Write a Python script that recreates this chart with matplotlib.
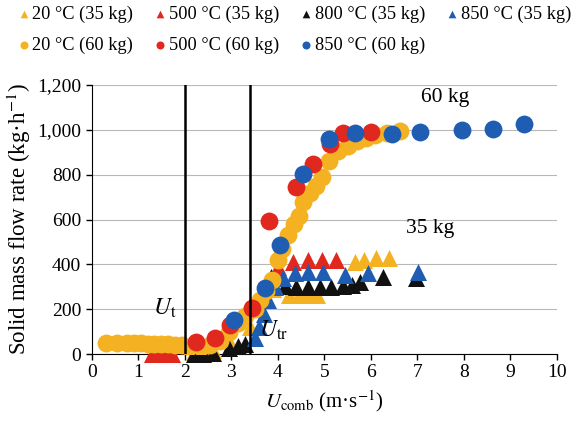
import matplotlib
matplotlib.use("Agg")
import matplotlib.pyplot as plt
from matplotlib.ticker import FuncFormatter

# ---------------- data ----------------
# 35 kg runs (triangles)
x_20_35 = [2.2, 2.6, 3.0, 3.4, 3.7, 3.9, 4.25, 4.45, 4.65, 4.85, 5.65, 5.85, 6.12, 6.4]
y_20_35 = [10, 20, 40, 120, 250, 290, 265, 262, 262, 265, 412, 420, 428, 428]

x_500_35 = [1.3, 1.45, 1.6, 1.72, 4.0, 4.33, 4.65, 4.95, 5.26]
y_500_35 = [0, 0, 0, 0, 390, 412, 420, 420, 420]

x_800_35 = [2.2, 2.4, 2.6, 2.95, 3.15, 3.3, 3.85, 4.15, 4.4, 4.65, 4.9, 5.15, 5.4, 5.6,
            5.76, 6.26, 6.98]
y_800_35 = [0, 0, 5, 25, 35, 45, 345, 305, 300, 300, 300, 300, 305, 310,
            322, 345, 338]

x_850_35 = [3.5, 3.6, 3.7, 3.8, 3.95, 4.11, 4.37, 4.65, 4.97, 5.44, 5.94, 7.02]
y_850_35 = [70, 120, 180, 240, 300, 338, 360, 367, 367, 352, 360, 367]

# 60 kg runs (circles)
x_20_60 = [0.3, 0.55, 0.75, 0.9, 1.05, 1.2, 1.35, 1.5, 1.65, 1.8, 1.95,
           2.1, 2.35, 2.55, 2.75, 2.95, 3.15, 3.3, 3.5, 3.62, 3.75, 3.88,
           4.0, 4.1, 4.22, 4.35, 4.46, 4.55, 4.7, 4.82, 4.95, 5.1, 5.3,
           5.5, 5.7, 5.9, 6.1, 6.35, 6.62]
y_20_60 = [50, 50, 50, 48, 48, 47, 46, 45, 44, 42, 40,
           33, 30, 40, 60, 100, 140, 170, 200, 240, 280, 330,
           420, 470, 530, 580, 615, 680, 720, 750, 790, 860, 905,
           930, 950, 965, 975, 985, 995]

x_500_60 = [2.25, 2.65, 2.97, 3.45, 3.82, 4.39, 4.75, 5.12, 5.4, 6.0]
y_500_60 = [55, 72, 130, 205, 595, 746, 850, 935, 984, 990]

x_850_60 = [3.05, 3.72, 4.05, 4.55, 5.1, 5.66, 6.46, 7.05, 7.95, 8.63, 9.3]
y_850_60 = [150, 293, 485, 803, 958, 984, 980, 990, 1000, 1002, 1025]

u_t = 2.0
u_tr = 3.4

ORANGE = "#F4B223"
RED = "#E0281F"
BLACK = "#111111"
BLUE = "#1F5DB3"

plt.rcParams["font.family"] = ["Liberation Serif", "DejaVu Serif"]
plt.rcParams["mathtext.fontset"] = "stix"

fig = plt.figure(figsize=(5.73, 4.21), dpi=100)
ax = fig.add_axes([0.16, 0.159, 0.812, 0.639])

tri = dict(marker="^", s=150, linewidths=0, clip_on=False)
cir = dict(marker="o", s=165, linewidths=0)

h_20_35 = ax.scatter(x_20_35, y_20_35, color=ORANGE, zorder=3, **tri)
h_500_35 = ax.scatter(x_500_35, y_500_35, color=RED, zorder=3, **tri)
h_800_35 = ax.scatter(x_800_35, y_800_35, color=BLACK, zorder=3, **tri)
h_850_35 = ax.scatter(x_850_35, y_850_35, color=BLUE, zorder=3, **tri)
h_20_60 = ax.scatter(x_20_60, y_20_60, color=ORANGE, zorder=4, **cir)
h_500_60 = ax.scatter(x_500_60, y_500_60, color=RED, zorder=4, **cir)
h_850_60 = ax.scatter(x_850_60, y_850_60, color=BLUE, zorder=4, **cir)

ax.axvline(u_t, color="black", linewidth=1.8, zorder=5)
ax.axvline(u_tr, color="black", linewidth=1.8, zorder=5)

ax.set_xlim(0, 10)
ax.set_ylim(0, 1200)
ax.set_xticks(range(0, 11))
ax.set_yticks(range(0, 1201, 200))
ax.yaxis.set_major_formatter(FuncFormatter(lambda v, p: f"{int(v):,}"))
ax.grid(axis="y", color="#b8b8b8", linewidth=0.8)
ax.set_axisbelow(True)
for side in ("top", "right"):
    ax.spines[side].set_visible(False)
ax.tick_params(labelsize=14, length=4, width=1)

ax.set_xlabel(r"$U_{\mathrm{comb}}$ (m·s$^{\mathrm{-1}}$)", fontsize=15, labelpad=5)
ax.set_ylabel(r"Solid mass flow rate (kg·h$^{\mathrm{-1}}$)", fontsize=16.5, labelpad=3)

ax.text(1.57, 205, r"$U_{\mathrm{t}}$", fontsize=17, ha="center", va="center")
ax.text(3.9, 107, r"$U_{\mathrm{tr}}$", fontsize=17, ha="center", va="center", zorder=6)
ax.text(7.6, 1146, "60 kg", fontsize=15.5, ha="center", va="center")
ax.text(7.27, 562, "35 kg", fontsize=15.5, ha="center", va="center")

handles = [h_20_35, h_20_60, h_500_35, h_500_60, h_800_35, h_850_60, h_850_35]
labels = ["20 °C (35 kg)", "20 °C (60 kg)", "500 °C (35 kg)", "500 °C (60 kg)",
          "800 °C (35 kg)", "850 °C (60 kg)", "850 °C (35 kg)"]
fig.legend(handles, labels, loc="upper left", bbox_to_anchor=(0.008, 1.022), ncol=4,
           frameon=False, fontsize=13.2, markerscale=0.45, handlelength=0.5,
           handletextpad=0.2, columnspacing=1.25, labelspacing=0.75, borderpad=0.3)

fig.savefig("out.png", dpi=100)
